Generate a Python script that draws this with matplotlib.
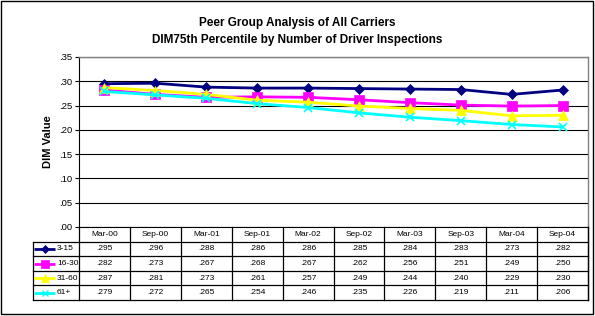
import matplotlib
matplotlib.use("Agg")
import matplotlib.pyplot as plt
from matplotlib.patches import Rectangle

plt.rcParams['font.family'] = ['Liberation Sans', 'DejaVu Sans']

categories = ["Mar-00", "Sep-00", "Mar-01", "Sep-01", "Mar-02",
              "Sep-02", "Mar-03", "Sep-03", "Mar-04", "Sep-04"]
series_names = ["3-15", "16-30", "31-60", "61+"]
s_3_15 = [.295, .296, .288, .286, .286, .285, .284, .283, .273, .282]
s_16_30 = [.282, .273, .267, .268, .267, .262, .256, .251, .249, .250]
s_31_60 = [.287, .281, .273, .261, .257, .249, .244, .240, .229, .230]
s_61p = [.279, .272, .265, .254, .246, .235, .226, .219, .211, .206]
series_values = [s_3_15, s_16_30, s_31_60, s_61p]
y_ticks = [0.0, 0.05, 0.10, 0.15, 0.20, 0.25, 0.30, 0.35]

colors = ["#000080", "#FF00FF", "#FFFF00", "#00FFFF"]
markers = ["D", "s", "^", "x"]
msizes = [5.5, 6.5, 6.5, 6]

W, H = 595, 316
fig = plt.figure(figsize=(W / 100, H / 100), dpi=100)

def rect(l, t, r, b):
    return [l / W, (H - b) / H, (r - l) / W, (b - t) / H]

# outer border
fig.patches.append(Rectangle((0.5 / W, 2 / H), 592.5 / W, 313 / H, transform=fig.transFigure,
                             fill=False, edgecolor="black", linewidth=1.0))

ax = fig.add_axes(rect(79, 57, 588, 227))
x = list(range(len(categories)))
for vals, c, m, ms in zip(series_values, colors, markers, msizes):
    ax.plot(x, vals, color=c, linewidth=2.0, marker=m, markersize=ms,
            markeredgecolor=c, markerfacecolor=c, markeredgewidth=1.2 if m == "x" else 0.5,
            zorder=3)
ax.set_xlim(-0.5, len(categories) - 0.5)
ax.set_ylim(0, 0.35)
ax.set_yticks(y_ticks)
ax.set_yticklabels([f"{v:.2f}"[1:] for v in y_ticks], fontsize=6.8)
ax.set_xticks([])
ax.yaxis.grid(True, color="black", linewidth=0.8)
ax.set_axisbelow(True)
ax.tick_params(axis="y", direction="out", length=3, width=0.8, pad=2)
for side in ["top", "right"]:
    ax.spines[side].set_color("#808080")
    ax.spines[side].set_linewidth(1.0)
ax.spines["left"].set_color("black")
ax.spines["bottom"].set_color("black")
ax.set_ylabel("DIM Value", fontsize=8, fontweight="bold", labelpad=4)

fig.text(297 / W, 1 - 23 / H, "Peer Group Analysis of All Carriers", ha="center", va="center",
         fontsize=8.5, fontweight="bold")
fig.text(297 / W, 1 - 40 / H, "DIM75th Percentile by Number of Driver Inspections", ha="center",
         va="center", fontsize=8.5, fontweight="bold")

# data table
cw = (588 - 79) / len(categories)
hdr = (79 - 33) / cw
tax = fig.add_axes(rect(33, 227, 588, 300))
tax.set_xlim(-0.5 - hdr, len(categories) - 0.5)
tax.set_ylim(5, 0)
tax.axis("off")
lw = 0.9
left = -0.5 - hdr
right = len(categories) - 0.5
for i in range(len(categories) + 1):
    tax.plot([i - 0.5, i - 0.5], [0, 5], color="black", linewidth=lw, clip_on=False)
tax.plot([right, right], [0, 5], color="black", linewidth=lw, clip_on=False)
tax.plot([left, left], [1, 5], color="black", linewidth=lw, clip_on=False)
for r in range(1, 6):
    tax.plot([left, right], [r, r], color="black", linewidth=lw, clip_on=False)
for i, c in enumerate(categories):
    tax.text(i, 0.5, c, ha="center", va="center", fontsize=6)
for r, (name, vals, c, m, ms) in enumerate(zip(series_names, series_values, colors, markers, msizes)):
    yy = r + 1.5
    x0 = left + 1 / cw
    x1 = left + 22 / cw
    tax.plot([x0, x1], [yy, yy], color=c, linewidth=2.0, clip_on=False, solid_capstyle="butt")
    tax.plot([left + 12 / cw], [yy], marker=m, color=c, markersize=ms - 1,
             markeredgewidth=1.0 if m == "x" else 0.5, clip_on=False)
    tax.text(left + 24 / cw, yy, name, ha="left", va="center", fontsize=6)
    for i, v in enumerate(vals):
        tax.text(i, yy, f"{v:.3f}"[1:], ha="center", va="center", fontsize=6)

fig.savefig("out.png", dpi=100)
